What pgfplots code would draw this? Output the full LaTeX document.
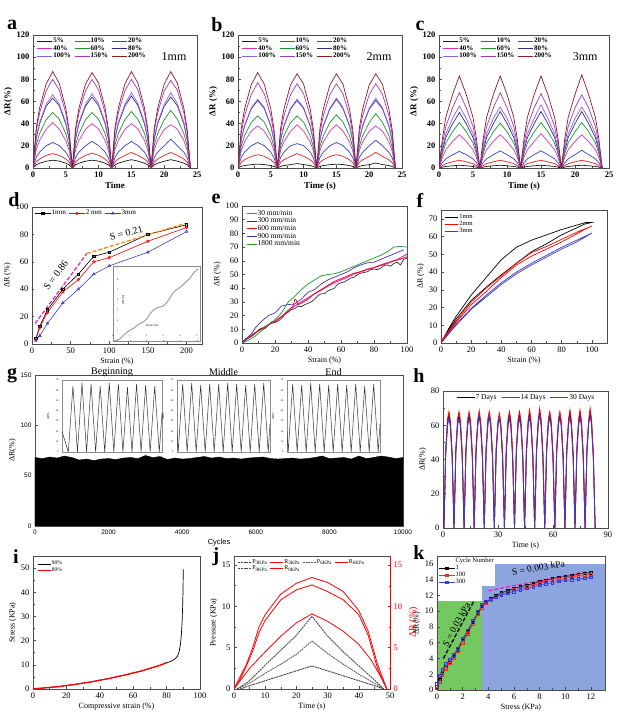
\documentclass[border=0pt]{standalone}
\usepackage{pgfplots}
\pgfplotsset{compat=1.18}
\usepackage{pgfplotstable}
\usepackage{fontspec}
\setmainfont{Liberation Serif}
\newfontfamily\arial{Liberation Sans}
\usetikzlibrary{plotmarks}

\definecolor{c5}{RGB}{20,20,20}
\definecolor{c10}{RGB}{235,30,35}
\definecolor{c20}{RGB}{55,65,205}
\definecolor{c40}{RGB}{225,45,190}
\definecolor{c60}{RGB}{25,150,40}
\definecolor{c80}{RGB}{45,45,145}
\definecolor{c100}{RGB}{145,95,230}
\definecolor{c150}{RGB}{160,55,190}
\definecolor{c200}{RGB}{145,25,35}
\definecolor{dblue}{RGB}{60,60,200}
\definecolor{dorange}{RGB}{245,140,20}
\definecolor{dmag}{RGB}{230,40,200}
\definecolor{kgreen}{RGB}{115,200,95}
\definecolor{kblue}{RGB}{140,165,222}

\pgfplotsset{
  pan/.style={
    scale only axis, anchor=south west,
    tick align=inside, xtick pos=left, ytick pos=left,
    axis line style={black!70, line width=0.6pt},
    every tick/.style={black!70, line width=0.5pt},
    major tick length=2.5pt, minor tick length=1.5pt,
    tick label style={font=\fontsize{8.5}{9}\selectfont},
    label style={font=\fontsize{8}{9}\selectfont},
    /pgf/number format/assume math mode=true,
    legend cell align=left,
    legend style={draw=none, fill=none, font=\fontsize{6.5}{7}\selectfont,
      inner sep=0.5pt, nodes={inner sep=0.6pt},
      /tikz/every even column/.append style={column sep=2pt}},
    xlabel style={inner sep=1pt}, ylabel style={inner sep=1pt},
  },
  abc/.style={
    tick label style={font=\bfseries\fontsize{8.5}{9}\selectfont},
    label style={font=\bfseries\fontsize{9}{10}\selectfont},
    legend style={font=\bfseries\fontsize{7}{7.5}\selectfont,
      /tikz/every even column/.append style={column sep=3pt}},
    xmin=0, xmax=25, ymin=0, ymax=120, xtick={0,5,...,25}, ytick={0,20,...,120},
    minor x tick num=1, minor y tick num=1, no markers,
    legend columns=3, legend style={at={(0.02,0.985)}, anchor=north west},
    legend image code/.code={\draw[##1] (0pt,0pt) -- (15pt,0pt);},
    every axis plot/.append style={line width=0.7pt},
  },
  shortleg/.style={legend image code/.code={\draw[##1] (0pt,0pt) -- (13pt,0pt);}},
  markleg/.style={legend image code/.code={\draw[mark repeat=2,mark phase=2,##1] plot coordinates {(0pt,0pt) (8pt,0pt) (16pt,0pt)};}},
  inset/.style={
    scale only axis, anchor=south west, axis background/.style={fill=white},
    tick align=inside, xtick pos=left, ytick pos=left,
    axis line style={black!45, line width=0.5pt},
    every tick/.style={black!45, line width=0.3pt},
    major tick length=1.2pt,
    tick label style={font=\fontsize{2.5}{3}\selectfont},
    label style={font=\fontsize{3}{3.5}\selectfont},
    /pgf/number format/assume math mode=true,
    no markers,
  },
}

\newcommand\strainplots[1]{%
  \addplot[c5] table[y=p5]{#1}; \addlegendentry{5\%}
  \addplot[c10] table[y=p10]{#1}; \addlegendentry{10\%}
  \addplot[c20] table[y=p20]{#1}; \addlegendentry{20\%}
  \addplot[c40] table[y=p40]{#1}; \addlegendentry{40\%}
  \addplot[c60] table[y=p60]{#1}; \addlegendentry{60\%}
  \addplot[c80] table[y=p80]{#1}; \addlegendentry{80\%}
  \addplot[c100] table[y=p100]{#1}; \addlegendentry{100\%}
  \addplot[c150] table[y=p150]{#1}; \addlegendentry{150\%}
  \addplot[c200] table[y=p200]{#1}; \addlegendentry{200\%}
}

\pgfplotstableread{
t p5 p10 p20 p40 p60 p80 p100 p150 p200
0 0 0 0 0 0 0 0 0 0
0.5 2.9 5.5 9.7 16.8 21 26.9 27.7 33.6 36.5
1 4.3 8.1 14.3 24.8 31 39.7 40.9 49.6 53.9
2 6.1 11.3 20 34.8 43.5 55.7 57.4 69.6 75.7
3 7 13 23 41 50 63 66 80 87
4 6.2 11.4 20.2 35.2 44 56.3 58.1 70.4 76.6
5 4.3 8.1 14.3 24.8 31 39.7 40.9 49.6 53.9
5.5 2.8 5.2 9.2 16 20 25.6 26.4 32 34.8
6 0 0 0 0 0 0 0 0 0
6.5 2.9 5.5 9.7 16.8 21 26.9 27.7 33.6 36.5
7 4.3 8.1 14.3 24.8 31 39.7 40.9 49.6 53.9
8 6.1 11.3 20 34.8 43.5 55.7 57.4 69.6 75.7
9 7 13.5 24 40 50 64 67 80 86
10 6.2 11.4 20.2 35.2 44 56.3 58.1 70.4 76.6
11 4.3 8.1 14.3 24.8 31 39.7 40.9 49.6 53.9
11.5 2.8 5.2 9.2 16 20 25.6 26.4 32 34.8
12 0 0 0 0 0 0 0 0 0
12.5 2.9 5.5 9.7 16.8 21 26.9 27.7 33.6 36.5
13 4.3 8.1 14.3 24.8 31 39.7 40.9 49.6 53.9
14 6.1 11.3 20 34.8 43.5 55.7 57.4 69.6 75.7
15 7.5 14 24 40 51 65 68 80 87
16 6.2 11.4 20.2 35.2 44 56.3 58.1 70.4 76.6
17 4.3 8.1 14.3 24.8 31 39.7 40.9 49.6 53.9
17.5 2.8 5.2 9.2 16 20 25.6 26.4 32 34.8
18 0 0 0 0 0 0 0 0 0
18.5 2.9 5.5 9.7 16.8 21 26.9 27.7 33.6 36.5
19 4.3 8.1 14.3 24.8 31 39.7 40.9 49.6 53.9
20 6.1 11.3 20 34.8 43.5 55.7 57.4 69.6 75.7
21 7.5 14 26 39 52 64 68 79 87
22 6.2 11.4 20.2 35.2 44 56.3 58.1 70.4 76.6
23 4.3 8.1 14.3 24.8 31 39.7 40.9 49.6 53.9
23.5 2.8 5.2 9.2 16 20 25.6 26.4 32 34.8
24 0 0 0 0 0 0 0 0 0
}\tabA

\pgfplotstableread{
t p5 p10 p20 p40 p60 p80 p100 p150 p200
0 0 0 0 0 0 0 0 0 0
0.5 1.5 5 9.7 16 19.7 25.6 26 31.9 36.1
1 2.2 7.4 14.3 23.6 29.1 37.8 38.4 47.1 53.3
2 3 10.4 20 33.1 40.9 53.1 53.9 66.1 74.8
3 3.5 12 23 38 47 61 62 77 86
4 3.1 10.6 20.2 33.4 41.4 53.7 54.6 66.9 75.7
5 2.2 7.4 14.3 23.6 29.1 37.8 38.4 47.1 53.3
5.5 1.4 4.8 9.2 15.2 18.8 24.4 24.8 30.4 34.4
6 0 0 0 0 0 0 0 0 0
6.5 1.5 5 9.7 16 19.7 25.6 26 31.9 36.1
7 2.2 7.4 14.3 23.6 29.1 37.8 38.4 47.1 53.3
8 3 10.4 20 33.1 40.9 53.1 53.9 66.1 74.8
9 4 13 22 39 47 61 62 76 85
10 3.1 10.6 20.2 33.4 41.4 53.7 54.6 66.9 75.7
11 2.2 7.4 14.3 23.6 29.1 37.8 38.4 47.1 53.3
11.5 1.4 4.8 9.2 15.2 18.8 24.4 24.8 30.4 34.4
12 0 0 0 0 0 0 0 0 0
12.5 1.5 5 9.7 16 19.7 25.6 26 31.9 36.1
13 2.2 7.4 14.3 23.6 29.1 37.8 38.4 47.1 53.3
14 3 10.4 20 33.1 40.9 53.1 53.9 66.1 74.8
15 3.5 12 23 39 48 62 63 76 85
16 3.1 10.6 20.2 33.4 41.4 53.7 54.6 66.9 75.7
17 2.2 7.4 14.3 23.6 29.1 37.8 38.4 47.1 53.3
17.5 1.4 4.8 9.2 15.2 18.8 24.4 24.8 30.4 34.4
18 0 0 0 0 0 0 0 0 0
18.5 1.5 5 9.7 16 19.7 25.6 26 31.9 36.1
19 2.2 7.4 14.3 23.6 29.1 37.8 38.4 47.1 53.3
20 3 10.4 20 33.1 40.9 53.1 53.9 66.1 74.8
21 4.5 14 25 38 49 61 63 76 85
22 3.1 10.6 20.2 33.4 41.4 53.7 54.6 66.9 75.7
23 2.2 7.4 14.3 23.6 29.1 37.8 38.4 47.1 53.3
23.5 1.4 4.8 9.2 15.2 18.8 24.4 24.8 30.4 34.4
24 0 0 0 0 0 0 0 0 0
}\tabB

\pgfplotstableread{
t p5 p10 p20 p40 p60 p80 p100 p150 p200
0 0 0 0 0 0 0 0 0 0
0.5 0.8 2.2 4.8 9.6 13.1 16 17.9 21.8 26.6
1 1.4 3.9 8.3 16.5 22.6 27.5 30.8 37.4 45.7
2 2 5.6 12 24 32.8 40 44.8 54.4 66.4
3 2.5 7 15 30 41 50 56 68 83
4 2 5.6 12 24 32.8 40 44.8 54.4 66.4
5 1.4 3.9 8.3 16.5 22.6 27.5 30.8 37.4 45.7
5.5 0.8 2.2 4.8 9.6 13.1 16 17.9 21.8 26.6
6 0 0 0 0 0 0 0 0 0
6.5 0.8 2.2 4.8 9.6 13.1 16 17.9 21.8 26.6
7 1.4 3.9 8.3 16.5 22.6 27.5 30.8 37.4 45.7
8 2 5.6 12 24 32.8 40 44.8 54.4 66.4
9 2.5 7 15.5 30 40.5 51 55 68 83
10 2 5.6 12 24 32.8 40 44.8 54.4 66.4
11 1.4 3.9 8.3 16.5 22.6 27.5 30.8 37.4 45.7
11.5 0.8 2.2 4.8 9.6 13.1 16 17.9 21.8 26.6
12 0 0 0 0 0 0 0 0 0
12.5 0.8 2.2 4.8 9.6 13.1 16 17.9 21.8 26.6
13 1.4 3.9 8.3 16.5 22.6 27.5 30.8 37.4 45.7
14 2 5.6 12 24 32.8 40 44.8 54.4 66.4
15 2.5 7 15.5 31 41 51 57 67 83
16 2 5.6 12 24 32.8 40 44.8 54.4 66.4
17 1.4 3.9 8.3 16.5 22.6 27.5 30.8 37.4 45.7
17.5 0.8 2.2 4.8 9.6 13.1 16 17.9 21.8 26.6
18 0 0 0 0 0 0 0 0 0
18.5 0.8 2.2 4.8 9.6 13.1 16 17.9 21.8 26.6
19 1.4 3.9 8.3 16.5 22.6 27.5 30.8 37.4 45.7
20 2 5.6 12 24 32.8 40 44.8 54.4 66.4
21 2.5 7 16 30 41 51 55 66 84
22 2 5.6 12 24 32.8 40 44.8 54.4 66.4
23 1.4 3.9 8.3 16.5 22.6 27.5 30.8 37.4 45.7
23.5 0.8 2.2 4.8 9.6 13.1 16 17.9 21.8 26.6
24 0 0 0 0 0 0 0 0 0
}\tabC

\pgfplotstableread{
t k r b
0.5 0 0 0
1.5 45 47 43
2.5 62 64 60
3.25 66 68 64
4 61 63 59
5 42 44 40
6 0 0 0
7 45 47 43
8 62 64 60
8.75 66 68 64
9.5 61 63 59
10.5 42 44 40
11.5 0 0 0
12.5 45 47 43
13.5 62 64 60
14.25 66 68 64
15 61 63 59
16 42 44 40
17 0 0 0
18 45 47 43
19 62 64 60
19.75 66 68.5 65
20.5 61 63 59
21.5 42 44 40
22.5 0 0 0
23.5 45 47 43
24.5 62 64 60
25.25 66 68 65
26 61 63 59
27 42 44 40
28 0 0 0
29 45 47 43
30 61 63 60
30.75 65 67 64
31.5 60 62 59
32.5 42 44 40
33.5 0 0 0
34.5 45 47 43
35.5 62 64 60
36.25 66 68 64
37 61 63 59
38 42 44 40
39 0 0 0
40 45 47 43
41 62 64 60
41.75 66 68 64
42.5 61 63 59
43.5 42 44 40
44.5 0 0 0
45.5 45 47 43
46.5 62 64 60
47.25 67 69 65
48 61 63 59
49 42 44 40
50 0 0 0
51 45 47 43
52 62 64 61
52.75 67 70 66
53.5 62 64 60
54.5 42 44 40
55.5 0 0 0
56.5 45 47 43
57.5 62 64 60
58.25 66 68 65
59 61 63 59
60 42 44 40
61 0 0 0
62 45 47 43
63 62 64 60
63.75 66 68 65
64.5 61 63 59
65.5 42 44 40
66.5 0 0 0
67.5 45 47 43
68.5 62 64 60
69.25 67 69 65
70 61 63 59
71 42 44 40
72 0 0 0
73 45 47 43
74 62 64 60
74.75 67 69 65
75.5 61 63 59
76.5 42 44 40
77.5 0 0 0
78.5 45 47 43
79.5 62 64 61
80.25 67 70 66
81 62 64 60
82 42 44 40
83 0 0 0
}\tabH

\pgfplotstableread{
x y
0 68
200 67
400 68.5
600 67.5
800 69.5
1000 68
1200 65.5
1400 66.5
1600 65
1800 66.5
2000 67
2200 66
2400 67.5
2600 68
2800 67
3000 70
3200 68
3400 69
3600 66
3800 67.5
4000 66.5
4200 67
4400 68
4600 69
4800 67.5
5000 68.5
5200 67
5400 67.5
5600 66.5
5800 67.5
6000 68
6200 68.5
6400 67
6600 66.5
6800 67
7000 67.5
7200 66.5
7400 67
7600 68
7800 69.5
8000 67
8200 67.5
8400 68
8600 66.5
8800 69.5
9000 67
9200 68
9400 69.5
9600 68.5
9800 67
10000 68
}\tabG

\begin{document}
\begin{tikzpicture}
\useasboundingbox (0pt,0pt) rectangle (624pt,714pt);

% ---------- a ----------
\begin{axis}[pan, abc, at={(33pt,546pt)}, width=164pt, height=133pt,
  xlabel={Time}, ylabel={ΔR(\%)}]
\strainplots{\tabA}
\node[font=\fontsize{12}{13}\selectfont] at (rel axis cs:0.86,0.84) {1mm};
\end{axis}

% ---------- b ----------
\begin{axis}[pan, abc, at={(238pt,546pt)}, width=164pt, height=133pt,
  xlabel={Time (s)}, ylabel={ΔR (\%)}]
\strainplots{\tabB}
\node[font=\fontsize{12}{13}\selectfont] at (rel axis cs:0.86,0.84) {2mm};
\end{axis}

% ---------- c ----------
\begin{axis}[pan, abc, at={(439pt,546pt)}, width=170pt, height=133pt,
  xlabel={Time (s)}, ylabel={ΔR (\%)}]
\strainplots{\tabC}
\node[font=\fontsize{12}{13}\selectfont] at (rel axis cs:0.86,0.84) {3mm};
\end{axis}

% ---------- d ----------
\begin{axis}[pan, markleg, at={(32pt,370pt)}, width=170pt, height=137pt,
  xmin=0, xmax=220, ymin=0, ymax=100, xtick={0,50,...,200}, ytick={0,20,...,100},
  minor x tick num=1, minor y tick num=1,
  xlabel={Strain (\%)}, ylabel={ΔR (\%)},
  legend columns=3, legend style={at={(0.01,0.985)}, anchor=north west, font=\fontsize{7}{8}\selectfont}]
\addplot[black, line width=0.6pt, mark=square, mark size=1.2pt] coordinates {(5,4)(10,13)(20,25)(40,40)(60,51)(80,64)(100,67)(150,80)(200,87)};
\addlegendentry{1mm}
\addplot[red, line width=0.6pt, mark=o, mark size=1.3pt] coordinates {(5,3)(10,12)(20,23)(40,38)(60,47)(80,60)(100,63)(150,75)(200,85)};
\addlegendentry{2 mm}
\addplot[dblue, line width=0.6pt, mark=triangle, mark size=1.5pt] coordinates {(5,2.5)(10,6)(20,15)(40,30)(60,40)(80,51)(100,57)(150,67)(200,82)};
\addlegendentry{3mm}
\addplot[dmag, line width=1.3pt, dash pattern=on 4pt off 2pt, forget plot] coordinates {(4,15)(71,66)};
\addplot[dorange, line width=1.3pt, dash pattern=on 4pt off 2pt, forget plot] coordinates {(71,66)(198,88)};
\node[rotate=53, font=\fontsize{10}{11}\selectfont] at (axis cs:31,50) {S = 0.86};
\node[rotate=15, font=\fontsize{10}{11}\selectfont] at (axis cs:122,81) {S = 0.21};
\end{axis}

\begin{axis}[inset, at={(113pt,373pt)}, width=87pt, height=75pt,
  xmin=0, xmax=5.2, ymin=0, ymax=7.3, xtick={0,...,5}, ytick={0,...,7},
  y tick label style={anchor=west, xshift=0.5pt},
  x tick label style={anchor=south, yshift=0.5pt}]
\addplot[black!35, line width=1.1pt] coordinates {(0,0)(0.2,0.05)(0.4,0.2)(0.6,0.5)(0.8,0.8)(1,1.05)(1.2,1.2)(1.4,1.45)(1.6,1.7)(1.8,1.85)(2,2.1)(2.2,2.6)(2.4,3.0)(2.6,3.2)(2.8,3.3)(3,3.4)(3.2,3.7)(3.4,4.2)(3.6,4.7)(3.8,5.0)(4,5.2)(4.2,5.5)(4.4,5.8)(4.6,6.1)(4.8,6.6)(5,6.9)(5.1,7)};
\node[font=\fontsize{3}{3.5}\selectfont] at (rel axis cs:0.45,0.2) {Strain (\%)};
\node[font=\fontsize{3}{3.5}\selectfont, rotate=90] at (rel axis cs:0.12,0.55) {ΔR (\%)};
\end{axis}

% ---------- e ----------
\begin{axis}[pan, at={(242pt,371pt)}, width=165pt, height=137pt,
  xmin=0, xmax=100, ymin=0, ymax=100, xtick={0,20,...,100}, ytick={0,10,...,100},
  minor x tick num=1, no markers,
  xlabel={Strain (\%)}, ylabel={ΔR (\%)},
  legend style={at={(0.02,0.98)}, anchor=north west, font=\fontsize{7.5}{8}\selectfont},
  legend image code/.code={\draw[#1] (0pt,0pt) -- (10pt,0pt);},
  every axis plot/.append style={line width=0.7pt}]
\addplot[dmag, line width=1pt] coordinates {(0,0)(4,4)(8,7.5)(12,10.5)(16,13.5)(20,16)(24,19.5)(28,22.5)(32,27)(36,30)(40,33)(44,36)(48,38.5)(52,41.5)(56,44)(60,46)(64,48)(68,50.5)(72,52)(76,54)(80,55)(84,57)(88,58.5)(92,60)(96,62)(100,65)};
\addlegendentry{30 mm/min}
\addplot[black!80] coordinates {(0,0)(2,3)(4,3.5)(6,5)(8,7)(10,9.5)(12,11)(14,10.5)(16,13)(18,15.5)(20,15)(22,16)(24,18)(26,21)(28,23)(30,24.5)(32,25)(34,27)(36,26.5)(38,28)(40,29)(42,30)(44,32)(46,34.5)(48,36)(50,36)(52,38)(54,39)(56,40)(58,43)(60,44)(62,44.5)(64,46)(66,47.5)(68,48)(70,50)(72,51)(74,51.5)(76,52)(78,53.5)(80,54)(82,53.5)(84,54.5)(86,56.5)(88,57)(90,56)(92,58)(94,59)(96,57)(98,61)(100,62)};
\addlegendentry{300 mm/min}
\addplot[red] coordinates {(0,0)(4,4)(8,7.5)(12,10)(16,13)(20,15.5)(24,19)(28,24)(31,27)(32,32)(33,31)(34,28)(36,29)(40,32)(44,36)(48,39)(52,42)(56,45)(60,47)(64,49)(68,51)(72,52)(76,53.5)(80,55)(84,56.5)(88,58)(92,60)(96,61)(100,63)};
\addlegendentry{600 mm/min}
\addplot[dblue!80!violet] coordinates {(0,0)(4,5)(6,7)(8,11)(12,16)(16,20)(20,22)(24,27)(28,28)(32,28.5)(36,32)(40,37)(44,39)(48,43)(52,46)(56,48)(60,50)(64,52)(68,55)(72,57)(76,58.5)(80,59)(84,61)(88,63)(92,65)(96,67)(98,68)};
\addlegendentry{900 mm/min}
\addplot[c60] coordinates {(0,0)(4,2)(8,5)(12,9)(16,13)(20,17)(24,22)(28,30)(32,34)(36,39)(40,43)(44,46)(48,49)(52,50)(56,50.5)(60,52)(64,54)(68,56)(72,58)(76,60)(80,62)(84,64)(88,66.5)(92,70)(96,70.5)(100,70)};
\addlegendentry{1800 mm/min}
\end{axis}

% ---------- f ----------
\begin{axis}[pan, shortleg, at={(441pt,371pt)}, width=166pt, height=133pt,
  xmin=0, xmax=110, ymin=0, ymax=75, xtick={0,20,...,100}, ytick={0,10,...,70},
  minor x tick num=1, no markers,
  xlabel={Strain (\%)}, ylabel={ΔR (\%)},
  legend style={at={(0.02,0.98)}, anchor=north west},
  every axis plot/.append style={line width=0.7pt}]
\addplot[black] coordinates {(0,0)(5,8)(10,15)(20,27)(30,37)(40,47)(50,54)(60,58)(70,61)(80,64)(90,66.5)(96,68)(100,68)(95,67)(90,65)(80,61)(70,56)(60,51.5)(50,45)(40,38.5)(30,31.5)(20,24)(10,13.5)(5,7)(0,0)};
\addlegendentry{1mm}
\addplot[red] coordinates {(0,1)(10,12.5)(20,23)(30,31)(40,38)(50,45)(60,51)(70,54.5)(80,58.5)(90,62.5)(100,66)(95,64)(90,61.5)(80,57)(70,53)(60,49)(50,44)(40,37)(30,29)(20,21.5)(10,11.5)(0,0)};
\addlegendentry{2mm}
\addplot[dblue] coordinates {(0,0)(10,10.5)(20,19.5)(30,27)(40,34)(50,40)(60,45)(70,49.5)(80,54)(90,58)(100,62)(90,57)(80,53)(70,48.5)(60,44)(50,39)(40,33)(30,26)(20,19)(10,10)(0,0)};
\addlegendentry{3mm}
\end{axis}

% ---------- g ----------
\begin{axis}[pan, at={(35pt,188pt)}, width=368pt, height=151pt,
  xmin=0, xmax=10000, ymin=0, ymax=150, xtick={0,2000,...,10000}, ytick={0,50,100,150},
  scaled ticks=false, /pgf/number format/1000 sep={},
  tick label style={font=\arial\fontsize{6.5}{7}\selectfont},
  xlabel style={font=\arial\fontsize{7.5}{8}\selectfont},
  xlabel={Cycles}, ylabel={ΔR(\%)}]
\addplot[fill=black, draw=black, line width=0.4pt] table[x=x, y=y]{\tabG} \closedcycle;
\end{axis}

\begin{axis}[inset, at={(62pt,262pt)}, width=100pt, height=72pt,
  xmin=-0.7, xmax=10.3, ymin=0, ymax=70, xtick=\empty, ytick={0,10,...,70}, ylabel={ΔR\%}]
\addplot[black!80, line width=0.5pt] coordinates {(-0.7,20)(0,0)(0.5,64)(1,0)(1.5,67)(2,0)(2.5,66)(3,0)(3.5,64)(4,0)(4.5,67)(5,0)(5.5,66)(6,0)(6.5,63)(7,0)(7.5,66)(8,0)(8.5,65)(9,0)(9.5,64)(10,0)(10.3,38)};
\end{axis}
\begin{axis}[inset, at={(177pt,262pt)}, width=93pt, height=72pt,
  xmin=-0.13, xmax=10.2, ymin=0, ymax=70, xtick=\empty, ytick={0,10,...,70}, ylabel={ΔR\%}]
\addplot[black!80, line width=0.5pt] coordinates {(-0.13,20)(0,0)(0.5,66)(1,0)(1.5,67)(2,0)(2.5,65)(3,0)(3.5,66)(4,0)(4.5,66)(5,0)(5.5,67)(6,0)(6.5,66)(7,0)(7.5,65)(8,0)(8.5,66)(9,0)(9.5,67)(10,0)(10.2,27)};
\end{axis}
\begin{axis}[inset, at={(287pt,262pt)}, width=93pt, height=72pt,
  xmin=-0.13, xmax=10.2, ymin=0, ymax=70, xtick=\empty, ytick={0,10,...,70}, ylabel={ΔR\%}]
\addplot[black!80, line width=0.5pt] coordinates {(-0.13,20)(0,0)(0.5,66)(1,0)(1.5,65)(2,0)(2.5,67)(3,0)(3.5,66)(4,0)(4.5,65)(5,0)(5.5,66)(6,0)(6.5,65)(7,0)(7.5,66)(8,0)(8.5,64)(9,0)(9.5,66)(10,0)(10.2,27)};
\end{axis}
\node[font=\fontsize{10}{11}\selectfont] at (112pt,342pt) {Beginning};
\node[font=\fontsize{10}{11}\selectfont] at (223.5pt,342pt) {Middle};
\node[font=\fontsize{10}{11}\selectfont] at (333.5pt,342pt) {End};

% ---------- h ----------
\begin{axis}[pan, at={(443pt,186pt)}, width=165pt, height=137pt,
  xmin=0, xmax=90, ymin=0, ymax=80, xtick={0,30,60,90}, ytick={0,20,...,80},
  minor x tick num=1, minor y tick num=1, no markers,
  xlabel={Time (s)}, ylabel={ΔR(\%)},
  legend columns=3, legend style={at={(0.5,0.985)}, anchor=north, font=\fontsize{7.5}{8}\selectfont,
    /tikz/every even column/.append style={column sep=4pt}},
  legend image code/.code={\draw[#1] (0pt,0pt) -- (18pt,0pt);},
  every axis plot/.append style={line width=0.8pt}]
\addplot[black] table[x=t, y=k]{\tabH}; \addlegendentry{7 Days}
\addplot[red] table[x=t, y=r]{\tabH}; \addlegendentry{14 Days}
\addplot[dblue] table[x=t, y=b]{\tabH}; \addlegendentry{30 Days}
\end{axis}

% ---------- i ----------
\begin{axis}[pan, shortleg, at={(33pt,25pt)}, width=167pt, height=133pt,
  xmin=0, xmax=100, ymin=0, ymax=55, xtick={0,20,...,100}, ytick={0,10,...,50},
  minor x tick num=1, minor y tick num=1, no markers,
  xlabel={Compressive strain (\%)}, ylabel={Stress (KPa)},
  legend style={at={(0.02,0.97)}, anchor=north west, font=\fontsize{5.5}{6}\selectfont}]
\addplot[black, line width=0.7pt] coordinates {(0,0)(5,0.3)(10,0.6)(15,1)(20,1.4)(25,1.9)(30,2.4)(35,3)(40,3.6)(45,4.3)(50,5)(55,5.8)(60,6.6)(65,7.5)(70,8.5)(75,9.6)(80,10.8)(83,11.6)(85,12.4)(86.5,13.5)(87.5,15.5)(88.3,18.5)(88.9,23)(89.3,28)(89.6,34)(89.8,40)(90,49.5)};
\addlegendentry{90\%}
\addplot[red, line width=1.3pt] coordinates {(0,0.1)(5,0.35)(10,0.7)(15,0.95)(20,1.45)(25,1.85)(30,2.45)(35,2.95)(40,3.65)(45,4.25)(50,5.05)(55,5.75)(60,6.65)(65,7.45)(70,8.55)(75,9.55)(80,10.9)};
\addlegendentry{80\%}
\end{axis}

% ---------- j ----------
\begin{axis}[pan, shortleg, at={(234pt,25pt)}, width=156pt, height=133pt,
  xmin=0, xmax=50, ymin=0, ymax=16.1, xtick={0,10,...,50}, ytick={0,5,10,15},
  minor x tick num=1, minor y tick num=1, no markers,
  xlabel={Time (s)}, ylabel={Pressure (KPa)},
  legend columns=4, legend style={at={(0.02,0.985)}, anchor=north west, font=\fontsize{6}{6.5}\selectfont}]
\addplot[black!75, line width=0.9pt, dash pattern=on 2pt off 0.7pt] coordinates {(2,0)(5,0.4)(10,1.0)(15,1.6)(20,2.2)(25,2.8)(30,2.2)(35,1.6)(40,1.0)(45,0.4)(48,0)};
\addlegendentry{P\textsubscript{3KPa}}
\addplot[red, line width=0.8pt] coordinates {(0,0)(2,1)(5,2.5)(10,4.5)(15,6.4)(20,8)(25,9.1)(30,8.2)(35,7)(40,5.4)(44,3.5)(47,1.5)(49,0)};
\addlegendentry{R\textsubscript{3KPa}}
\addplot[black!60, line width=0.9pt, dash pattern=on 2pt off 0.7pt] coordinates {(1,0)(5,0.7)(10,1.9)(15,3.0)(20,4.2)(25,5.8)(30,4.3)(35,3.0)(40,1.8)(45,0.7)(48,0)};
\addlegendentry{P\textsubscript{6KPa}}
\addplot[red, line width=0.8pt] coordinates {(0,0)(2,1.2)(4,2.8)(6,4.6)(8,6.8)(10,8.3)(15,10.8)(20,12)(25,12.6)(30,11.8)(35,10.8)(40,9)(43,6.5)(46,2.5)(48,0.8)(49,0)};
\addlegendentry{R\textsubscript{6KPa}}
\addplot[black!70, line width=0.9pt, dash pattern=on 2pt off 0.7pt] coordinates {(1,0)(5,1)(10,2.9)(15,4.7)(20,6.5)(25,8.8)(30,6.4)(35,4.5)(40,2.8)(45,1.1)(48,0)};
\addlegendentry{P\textsubscript{9KPa}}
\addplot[red, line width=0.8pt] coordinates {(0,0)(2,1.5)(4,3)(6,5)(8,7.5)(10,9)(15,11.5)(20,12.8)(25,13.5)(30,12.9)(35,11.8)(40,9.5)(43,7)(46,3)(48,1)(49,0)};
\addlegendentry{R\textsubscript{9KPa}}
\end{axis}
\begin{axis}[pan, at={(234pt,25pt)}, width=156pt, height=133pt,
  xmin=0, xmax=50, ymin=0, ymax=16.1, axis x line=none, axis y line*=right,
  ytick pos=right, yticklabel pos=right, ylabel near ticks,
  ytick={0,5,10,15}, minor y tick num=1,
  y axis line style={red}, every tick/.style={red},
  y tick label style={red}, ylabel style={red}, ylabel={ΔR (\%)}]
\end{axis}

% ---------- k ----------
\begin{axis}[pan, markleg, at={(437pt,24pt)}, width=168pt, height=134pt,
  xmin=0, xmax=13.1, ymin=0, ymax=17, xtick={0,2,...,12}, ytick={0,2,...,16},
  minor x tick num=1, axis on top,
  xlabel={Stress (KPa)}, ylabel={ΔR(\%)},
  legend style={at={(0.005,0.995)}, anchor=north west, fill=white, font=\fontsize{6.5}{7}\selectfont}]
\addplot[fill=kgreen, draw=none, forget plot] coordinates {(0,11.3)(3.5,11.3)} \closedcycle;
\addplot[fill=kblue, draw=none, forget plot] coordinates {(3.5,16)(13.1,16)} \closedcycle;
\addlegendimage{empty legend}\addlegendentry{Cycle Number}
\addplot[black, line width=0.5pt, mark=square, mark size=1.3pt] coordinates {(0,0.4)(0.2,1.3)(0.4,2.2)(0.7,3)(1,3.6)(1.3,4.3)(1.6,5.1)(2,6.3)(2.4,7.4)(2.8,8.6)(3.2,9.8)(3.5,10.6)(3.8,11.1)(4.2,11.6)(4.6,12)(5,12.3)(5.5,12.6)(6,12.9)(6.5,13.1)(7,13.3)(7.5,13.5)(8,13.7)(8.5,13.9)(9,14.1)(9.5,14.3)(10,14.4)(10.5,14.5)(11,14.7)(11.5,14.8)(12,14.9)};
\addlegendentry{1}
\addplot[red!80!pink, line width=0.5pt, mark=square, mark size=1.3pt] coordinates {(0,0.2)(0.2,1)(0.4,1.9)(0.7,2.7)(1,3.4)(1.3,4.1)(1.6,4.9)(2,6)(2.4,7.1)(2.8,8.4)(3.2,9.6)(3.5,10.4)(3.8,11)(4.2,11.4)(4.6,11.8)(5,12.1)(5.5,12.4)(6,12.7)(6.5,12.9)(7,13.1)(7.5,13.3)(8,13.5)(8.5,13.7)(9,13.9)(9.5,14)(10,14.2)(10.5,14.3)(11,14.5)(11.5,14.6)(12,14.7)};
\addlegendentry{100}
\addplot[dblue, line width=0.5pt, mark=square, mark size=1.3pt] coordinates {(0,0.8)(0.2,1.8)(0.4,2.6)(0.7,3.3)(1,3.9)(1.3,4.5)(1.6,5.2)(2,6.5)(2.4,7.6)(2.8,8.8)(3.2,9.9)(3.5,10.8)(3.8,11.2)(4.2,11.5)(4.6,11.8)(5,12)(5.5,12.3)(6,12.5)(6.5,12.7)(7,12.9)(7.5,13.1)(8,13.3)(8.5,13.5)(9,13.6)(9.5,13.8)(10,13.9)(10.5,14)(11,14.1)(11.5,14.2)(12,14.3)};
\addlegendentry{300}
\addplot[black, line width=1.3pt, dash pattern=on 4pt off 2pt, forget plot] coordinates {(0.5,4)(2.85,11.2)};
\addplot[dmag, line width=1.3pt, dash pattern=on 4pt off 2pt, forget plot] coordinates {(4,12.6)(11.6,15)};
\node[rotate=62, font=\fontsize{9.5}{10}\selectfont] at (axis cs:1.5,8.3) {S = 0.03 kPa};
\node[rotate=10, font=\fontsize{9.5}{10}\selectfont] at (axis cs:7.9,15.5) {S = 0.003 kPa};
\end{axis}

% ---------- panel letters ----------
\begin{scope}[every node/.style={font=\bfseries\fontsize{20}{20}\selectfont}]
\node at (12pt,689pt) {a};
\node at (217pt,689pt) {b};
\node at (420pt,688pt) {c};
\node at (14pt,514pt) {d};
\node at (216pt,515pt) {e};
\node at (420pt,514pt) {f};
\node at (12pt,338pt) {g};
\node at (419pt,338pt) {h};
\node at (16pt,157pt) {i};
\node at (216pt,157pt) {j};
\node at (419pt,161pt) {k};
\end{scope}
\end{tikzpicture}
\end{document}
